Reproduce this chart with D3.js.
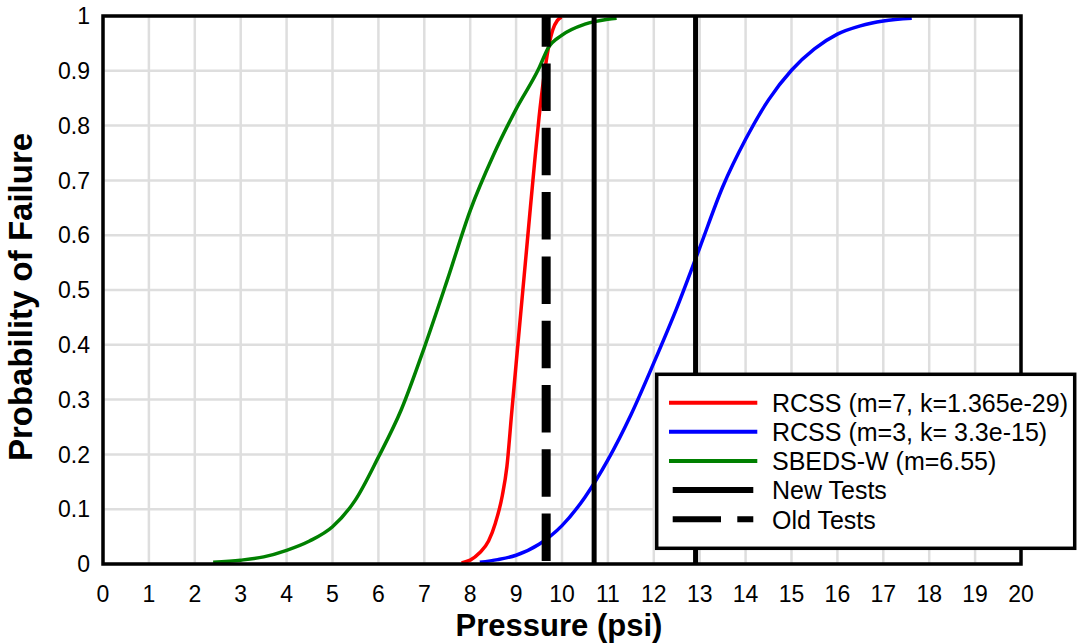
<!DOCTYPE html>
<html>
<head>
<meta charset="utf-8">
<script src="https://cdn.jsdelivr.net/npm/d3@7"></script>
<style>
  html, body { margin: 0; padding: 0; background: #fff; }
  svg { display: block; font-family: "Liberation Sans", Arial, sans-serif; }
</style>
</head>
<body>
<svg id="chart" width="1077" height="644"></svg>
<script>
// ---- data ----
const xTicks = [0,1,2,3,4,5,6,7,8,9,10,11,12,13,14,15,16,17,18,19,20];
const yTicks = [0,0.1,0.2,0.3,0.4,0.5,0.6,0.7,0.8,0.9,1];
const yTickLabels = ["0","0.1","0.2","0.3","0.4","0.5","0.6","0.7","0.8","0.9","1"];

const redX = [7.81,8.0,8.2,8.4,8.55,8.7,8.8,8.9,9.0,9.1,9.2,9.3,9.4,9.5,9.6,9.7,9.8,9.9,9.99];
const redP = [0.002,0.007,0.02,0.042,0.075,0.125,0.178,0.272,0.365,0.457,0.548,0.64,0.73,0.815,0.885,0.94,0.975,0.992,0.998];

const blueX = [8.21,8.6,9.0,9.5,10.0,10.5,11.0,11.5,12.0,12.5,13.0,13.5,14.0,14.5,15.0,15.5,16.0,16.5,17.0,17.62];
const blueP = [0.003,0.008,0.016,0.036,0.07,0.122,0.19,0.272,0.367,0.467,0.577,0.688,0.775,0.847,0.901,0.94,0.967,0.982,0.991,0.996];

const greenX = [2.4,3.0,3.5,4.0,4.5,5.0,5.5,6.0,6.5,7.0,7.5,8.0,8.5,9.0,9.5,9.7,10.0,10.5,11.0,11.19];
const greenP = [0.003,0.007,0.013,0.025,0.042,0.068,0.117,0.195,0.282,0.395,0.518,0.645,0.745,0.83,0.905,0.942,0.965,0.985,0.994,0.996];

const newTests = [10.7, 12.91];
const oldTests = [9.655];

const legendLabels = ["RCSS (m=7, k=1.365e-29)", "RCSS (m=3, k= 3.3e-15)", "SBEDS-W (m=6.55)", "New Tests", "Old Tests"];
const seriesColors = ["#ff0000", "#0000ff", "#008000"];

// ---- chart ----
const svg = d3.select("#chart");
const x = d3.scaleLinear().domain([0, 20]).range([103, 1021]);
const y = d3.scaleLinear().domain([0, 1]).range([564, 16]);

// grid
svg.append("g").selectAll("line").data(xTicks).join("line")
  .attr("x1", d => x(d)).attr("x2", d => x(d)).attr("y1", y(0)).attr("y2", y(1))
  .attr("stroke", "#dedede").attr("stroke-width", 2.5);
svg.append("g").selectAll("line").data(yTicks).join("line")
  .attr("x1", x(0)).attr("x2", x(20)).attr("y1", d => y(d)).attr("y2", d => y(d))
  .attr("stroke", "#dedede").attr("stroke-width", 2.5);

// curves
const line = d3.line().x(d => x(d[0])).y(d => y(d[1])).curve(d3.curveMonotoneX);
const series = [
  d3.zip(redX, redP),
  d3.zip(blueX, blueP),
  d3.zip(greenX, greenP)
];
series.forEach((s, i) => {
  svg.append("path").datum(s).attr("d", line)
    .attr("fill", "none").attr("stroke", seriesColors[i]).attr("stroke-width", 3.5)
    .attr("stroke-linejoin", "round");
});

// test lines
svg.append("g").selectAll("line").data(newTests).join("line")
  .attr("x1", d => x(d)).attr("x2", d => x(d)).attr("y1", y(1)).attr("y2", y(0))
  .attr("stroke", "#000").attr("stroke-width", 5);
svg.append("g").selectAll("line").data(oldTests).join("line")
  .attr("x1", d => x(d)).attr("x2", d => x(d)).attr("y1", y(1)).attr("y2", y(0))
  .attr("stroke", "#000").attr("stroke-width", 9)
  .attr("stroke-dasharray", "47.5,16.8").attr("stroke-dashoffset", 16.8);

// frame
svg.append("rect").attr("x", x(0)).attr("y", y(1))
  .attr("width", x(20) - x(0)).attr("height", y(0) - y(1))
  .attr("fill", "none").attr("stroke", "#000").attr("stroke-width", 3.5);

// tick labels
svg.append("g").selectAll("text").data(xTicks).join("text")
  .attr("x", d => x(d)).attr("y", 601.5).attr("text-anchor", "middle")
  .attr("font-size", 23).attr("fill", "#000").text(d => d);
svg.append("g").selectAll("text").data(yTicks).join("text")
  .attr("x", 90).attr("y", d => y(d) + 8.2).attr("text-anchor", "end")
  .attr("font-size", 23).attr("fill", "#000").text((d, i) => yTickLabels[i]);

// axis titles
svg.append("text").attr("x", 559).attr("y", 636).attr("text-anchor", "middle")
  .attr("font-size", 31).attr("font-weight", "bold").text("Pressure (psi)");
svg.append("text").attr("transform", "translate(32,297) rotate(-90)").attr("text-anchor", "middle")
  .attr("font-size", 33).attr("font-weight", "bold").text("Probability of Failure");

// legend
const lg = svg.append("g");
lg.append("rect").attr("x", 656.7).attr("y", 374.3).attr("width", 418).attr("height", 174)
  .attr("fill", "#fff").attr("stroke", "#000").attr("stroke-width", 3.5);
const rowY = [402.7, 431.7, 461, 490, 519.3];
legendLabels.forEach((lab, i) => {
  const ly = rowY[i];
  if (i < 3) {
    lg.append("line").attr("x1", 669).attr("x2", 757.3).attr("y1", ly).attr("y2", ly)
      .attr("stroke", seriesColors[i]).attr("stroke-width", 4);
  } else {
    lg.append("line").attr("x1", 672.7).attr("x2", 753.3).attr("y1", ly).attr("y2", ly)
      .attr("stroke", "#000").attr("stroke-width", 6)
      .attr("stroke-dasharray", i === 4 ? "48.3,16.3" : null);
  }
  lg.append("text").attr("x", 772).attr("y", ly + 9.4).attr("font-size", 25)
    .attr("fill", "#000").text(lab);
});
</script>
</body>
</html>
